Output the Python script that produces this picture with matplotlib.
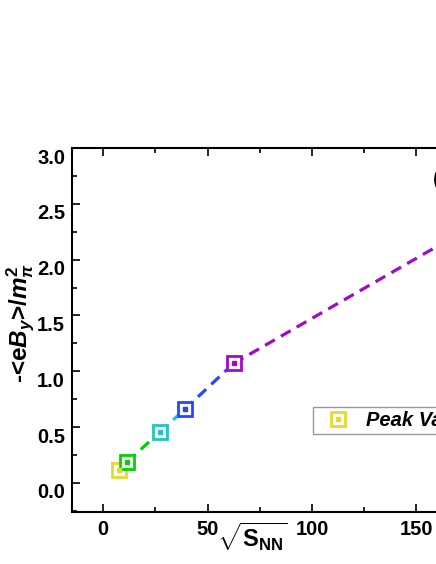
import numpy as np
import matplotlib
matplotlib.use("Agg")
import matplotlib.pyplot as plt
from matplotlib.ticker import MultipleLocator
from matplotlib.transforms import ScaledTranslation

plt.rcParams['font.family'] = ['Liberation Sans', 'DejaVu Sans']
plt.rcParams['mathtext.fontset'] = 'custom'
plt.rcParams['mathtext.rm'] = 'Liberation Sans:bold'
plt.rcParams['mathtext.bf'] = 'Liberation Sans:bold'
plt.rcParams['mathtext.it'] = 'Liberation Sans:bold:italic'

# energias (sqrt s_NN, GeV) e pico do campo magnetico
energies = [7.7, 11.5, 27, 39, 62.4, 200]
peak_values = [0.12, 0.19, 0.455, 0.66, 1.07, 2.55]
colors = ['#e6d82c', '#00d400', '#1fc3c8', '#2448ff', '#a20acb', '#e02020']
legend_label = 'Peak Value'
y_ticks = [0.0, 0.5, 1.0, 1.5, 2.0, 2.5, 3.0]
x_ticks = [0, 50, 100, 150, 200]

fig = plt.figure(figsize=(4.36, 5.64), dpi=100)
# eixo maior que a figura: o lado direito fica cortado
ax = fig.add_axes([72 / 436, 52 / 564, 480 / 436, 364 / 564])

# segmentos tracejados, cor do ponto inicial
for i in range(len(energies) - 1):
    ax.plot(energies[i:i + 2], peak_values[i:i + 2], ls=(0, (3.5, 2.2)),
            lw=2.3, color=colors[i], zorder=2)

for x, y, c in zip(energies, peak_values, colors):
    ax.plot(x, y, marker='s', ms=9.5, mfc='white', mec=c, mew=2.0, ls='none', zorder=3)
    ax.plot(x, y, marker='s', ms=2.2, mfc=c, mec=c, ls='none', zorder=4)

h1, = ax.plot([], [], marker='s', ms=9.5, mfc='white', mec=colors[0], mew=2.0, ls='none')
h2, = ax.plot([], [], marker='s', ms=2.2, mfc=colors[0], mec=colors[0], ls='none')
leg = ax.legend([(h1, h2)], [legend_label], loc='upper left',
                bbox_to_anchor=(0.502, 0.288), borderaxespad=0,
                fancybox=False, frameon=True, handletextpad=0.4,
                handlelength=2.05, borderpad=0.2,
                prop={'weight': 'bold', 'style': 'italic', 'size': 14.5})
leg.get_frame().set_edgecolor('#808080')
leg.get_frame().set_linewidth(1.0)

ax.set_xlim(-15, 215)
ax.set_ylim(-0.26, 3.0)
ax.xaxis.set_minor_locator(MultipleLocator(25))
ax.yaxis.set_minor_locator(MultipleLocator(0.25))
ax.set_yticks(y_ticks)
ax.set_yticklabels([f'{v:.1f}' for v in y_ticks])
ax.set_xticks(x_ticks)
ax.set_xticklabels([str(v) for v in x_ticks])

ax.tick_params(which='both', direction='in', top=True, right=True, width=1.2)
ax.tick_params(which='major', length=6, labelsize=14.5)
ax.tick_params(axis='y', which='major', pad=5)
ax.tick_params(axis='x', which='major', pad=6)
ax.tick_params(which='minor', length=3.5)
# rotulos do eixo y ficam um pouco abaixo dos ticks, como no original
shift = ScaledTranslation(0, -8 / 100, fig.dpi_scale_trans)
for lab in ax.get_yticklabels():
    lab.set_fontweight('bold')
    lab.set_transform(lab.get_transform() + shift)
for lab in ax.get_xticklabels():
    lab.set_fontweight('bold')
for sp in ax.spines.values():
    sp.set_linewidth(1.5)

ax.set_ylabel(r'-<e$B_y$>/$m_\pi^2$', fontsize=17.5, fontweight='bold')
ax.yaxis.set_label_coords((36 - 72) / 480, (512 - 323) / 364)
fig.text(252 / 436, 1 - 537 / 564, r'$\sqrt{\mathbf{S}_{\mathbf{NN}}}$',
         fontsize=17, ha='center', va='center')

ax.text(158.0, 2.72, '(a)', fontsize=16, fontweight='bold', va='center', ha='left')

fig.savefig('out.png', dpi=100)
